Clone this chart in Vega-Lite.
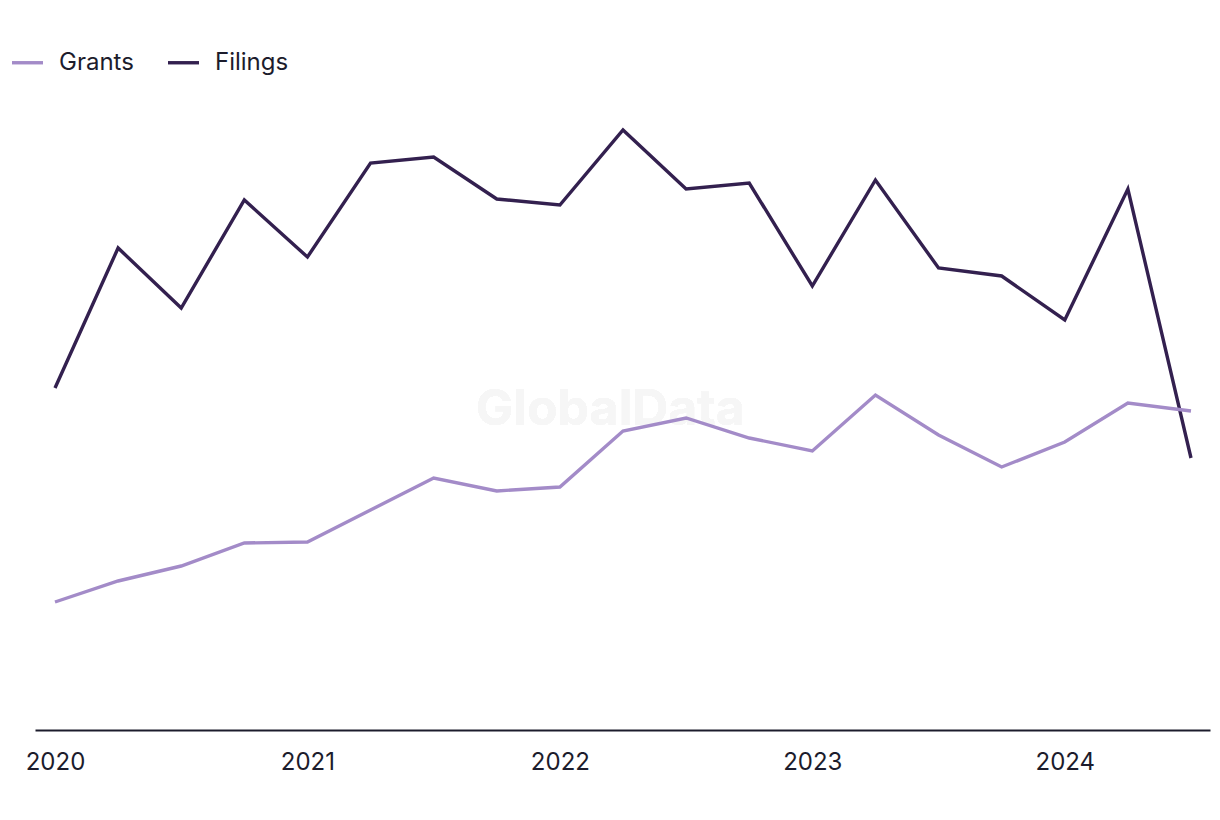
{
  "$schema": "https://vega.github.io/schema/vega-lite/v6.json",
  "autosize": {"type": "none"},
  "width": 1175,
  "height": 650,
  "padding": {"left": 35, "top": 80, "right": 10, "bottom": 90},
  "background": "white",
  "config": {
    "view": {"stroke": null},
    "font": "Inter",
    "axis": {"labelFont": "Inter", "labelColor": "#1c1c2c"},
    "legend": {"labelFont": "Inter", "labelColor": "#1c1c2c"}
  },
  "data": {
    "values": [
      {"t": 2020.0, "series": "Filings", "value": 342},
      {"t": 2020.25, "series": "Filings", "value": 482},
      {"t": 2020.5, "series": "Filings", "value": 422},
      {"t": 2020.75, "series": "Filings", "value": 530},
      {"t": 2021.0, "series": "Filings", "value": 473},
      {"t": 2021.25, "series": "Filings", "value": 567},
      {"t": 2021.5, "series": "Filings", "value": 573},
      {"t": 2021.75, "series": "Filings", "value": 531},
      {"t": 2022.0, "series": "Filings", "value": 525},
      {"t": 2022.25, "series": "Filings", "value": 600},
      {"t": 2022.5, "series": "Filings", "value": 541},
      {"t": 2022.75, "series": "Filings", "value": 547},
      {"t": 2023.0, "series": "Filings", "value": 444},
      {"t": 2023.25, "series": "Filings", "value": 550},
      {"t": 2023.5, "series": "Filings", "value": 462},
      {"t": 2023.75, "series": "Filings", "value": 454},
      {"t": 2024.0, "series": "Filings", "value": 410},
      {"t": 2024.25, "series": "Filings", "value": 541},
      {"t": 2024.5, "series": "Filings", "value": 272},
      {"t": 2020.0, "series": "Grants", "value": 128},
      {"t": 2020.25, "series": "Grants", "value": 149},
      {"t": 2020.5, "series": "Grants", "value": 164},
      {"t": 2020.75, "series": "Grants", "value": 187},
      {"t": 2021.0, "series": "Grants", "value": 188},
      {"t": 2021.25, "series": "Grants", "value": 220},
      {"t": 2021.5, "series": "Grants", "value": 252},
      {"t": 2021.75, "series": "Grants", "value": 239},
      {"t": 2022.0, "series": "Grants", "value": 243},
      {"t": 2022.25, "series": "Grants", "value": 299},
      {"t": 2022.5, "series": "Grants", "value": 312},
      {"t": 2022.75, "series": "Grants", "value": 292},
      {"t": 2023.0, "series": "Grants", "value": 279},
      {"t": 2023.25, "series": "Grants", "value": 335},
      {"t": 2023.5, "series": "Grants", "value": 295},
      {"t": 2023.75, "series": "Grants", "value": 263},
      {"t": 2024.0, "series": "Grants", "value": 288},
      {"t": 2024.25, "series": "Grants", "value": 327},
      {"t": 2024.5, "series": "Grants", "value": 319}
    ]
  },
  "layer": [
    {
      "mark": {"type": "text", "text": "GlobalData", "font": "Inter", "fontWeight": "bold", "fontSize": 50, "color": "#f6f6f6", "align": "center", "baseline": "middle"},
      "encoding": {
        "x": {
          "datum": 2022.2, "type": "quantitative",
          "scale": {"domain": [2019.9208, 2024.5753], "nice": false, "zero": false},
          "axis": {
            "title": null, "values": [2020, 2021, 2022, 2023, 2024], "format": "d",
            "grid": false, "ticks": false, "domainColor": "#1c1c2c", "domainWidth": 2,
            "labelFontSize": 24, "labelPadding": 20, "labelFlush": false
          }
        },
        "y": {
          "datum": 320, "type": "quantitative",
          "scale": {"domain": [0, 650], "nice": false, "zero": true},
          "axis": null
        }
      }
    },
    {
      "mark": {"type": "line", "strokeWidth": 3.4, "strokeJoin": "miter"},
      "encoding": {
        "x": {
          "field": "t", "type": "quantitative",
          "scale": {"domain": [2019.9208, 2024.5753], "nice": false, "zero": false},
          "axis": {
            "title": null, "values": [2020, 2021, 2022, 2023, 2024], "format": "d",
            "grid": false, "ticks": false, "domainColor": "#1c1c2c", "domainWidth": 2,
            "labelFontSize": 24, "labelPadding": 20, "labelFlush": false
          }
        },
        "y": {
          "field": "value", "type": "quantitative",
          "scale": {"domain": [0, 650], "nice": false, "zero": true},
          "axis": null
        },
        "color": {
          "field": "series", "type": "nominal",
          "scale": {"domain": ["Grants", "Filings"], "range": ["#a38bc8", "#33204f"]},
          "legend": {
            "title": null, "orient": "none", "direction": "horizontal",
            "legendX": -25, "legendY": -35,
            "symbolType": "stroke", "symbolSize": 961, "symbolStrokeWidth": 3.4,
            "labelFontSize": 24, "labelOffset": 14, "columnPadding": 27
          }
        }
      }
    }
  ]
}
